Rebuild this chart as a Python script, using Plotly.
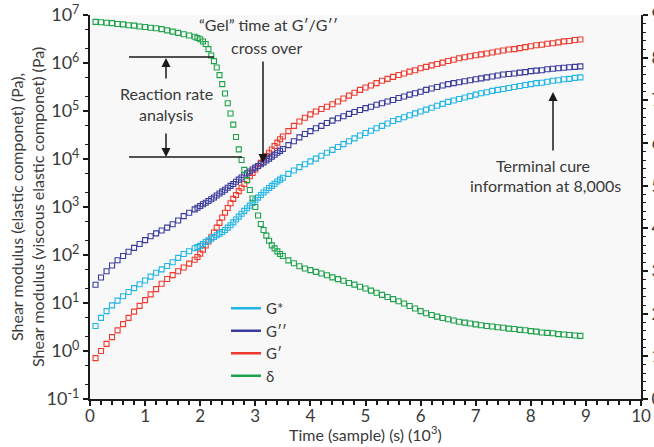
import plotly.graph_objects as go

# ---- data (time in 10^3 s) ----
time_k = [0.1, 0.2, 0.3, 0.4, 0.5, 0.6, 0.7, 0.8, 0.9, 1.0,
          1.1, 1.2, 1.3, 1.4, 1.5, 1.6, 1.7, 1.8, 1.9, 1.95,
          2.0, 2.05, 2.1, 2.15, 2.2, 2.25, 2.3, 2.35, 2.4, 2.45,
          2.5, 2.55, 2.6, 2.65, 2.7, 2.75, 2.8, 2.85, 2.9, 2.95,
          3.0, 3.05, 3.1, 3.15, 3.2, 3.25, 3.3, 3.35, 3.4, 3.45,
          3.5, 3.6, 3.7, 3.8, 3.9, 4.0,
          4.1, 4.2, 4.3, 4.4, 4.5, 4.6, 4.7, 4.8, 4.9, 5.0,
          5.1, 5.2, 5.3, 5.4, 5.5, 5.6, 5.7, 5.8, 5.9, 6.0,
          6.1, 6.2, 6.3, 6.4, 6.5, 6.6, 6.7, 6.8, 6.9, 7.0,
          7.1, 7.2, 7.3, 7.4, 7.5, 7.6, 7.7, 7.8, 7.9, 8.0,
          8.1, 8.2, 8.3, 8.4, 8.5, 8.6, 8.7, 8.8, 8.9]

g_star = [3.31, 4.9, 6.76, 8.91, 11.2, 13.8, 17.0, 20.4, 24.5, 29.5,
          35.5, 42.7, 50.1, 58.9, 70.8, 87.1, 105, 120, 138, 146,
          155, 170, 186, 202, 219, 237, 257, 279, 302, 331,
          372, 417, 479, 550, 631, 724, 832, 944, 1070, 1220,
          1380, 1570, 1780, 2000, 2240, 2480, 2750, 3050, 3390, 3720,
          4070, 4900, 5750, 6760, 7760, 8910,
          10200, 11700, 13500, 15500, 17800, 20400, 23400, 26900, 30900, 34700,
          38900, 43700, 49000, 55000, 61700, 67600, 74100, 81300, 89100, 97700,
          107000, 117000, 129000, 141000, 155000, 166000, 178000, 191000, 204000, 219000,
          234000, 245000, 263000, 275000, 288000, 302000, 316000, 331000, 347000, 363000,
          380000, 389000, 407000, 427000, 437000, 457000, 468000, 490000, 501000]

g_double_prime = [24.0, 33.9, 45.7, 60.3, 77.6, 95.5, 117, 141, 170, 204,
                  245, 282, 324, 372, 437, 525, 646, 759, 891, 966,
                  1050, 1140, 1230, 1330, 1450, 1580, 1740, 1910, 2090, 2290,
                  2510, 2750, 3020, 3350, 3720, 4120, 4570, 5010, 5500, 6030,
                  6610, 7160, 7760, 8510, 9330, 10200, 11200, 12300, 13500, 14800,
                  16200, 19500, 23400, 28200, 33100, 38000,
                  43700, 49000, 56200, 63100, 70800, 77600, 87100, 95500, 105000, 115000,
                  123000, 135000, 145000, 158000, 170000, 186000, 200000, 219000, 234000, 251000,
                  275000, 295000, 316000, 339000, 363000, 380000, 398000, 417000, 437000, 457000,
                  479000, 501000, 525000, 550000, 575000, 589000, 603000, 631000, 646000, 676000,
                  692000, 708000, 741000, 759000, 776000, 794000, 813000, 832000, 851000]

g_prime = [0.71, 1.0, 1.41, 1.95, 2.69, 3.63, 4.9, 6.61, 8.71, 11.5,
           15.1, 19.5, 25.1, 31.6, 38.0, 45.7, 55.0, 66.1, 79.4, 91.0,
           107, 129, 158, 191, 234, 295, 372, 468, 603, 759,
           955, 1200, 1480, 1780, 2140, 2510, 3020, 3630, 4370, 5130,
           6030, 7080, 8320, 9770, 11500, 13500, 15800, 18600, 21900, 25700,
           29500, 38000, 49000, 60300, 72400, 85100,
           97700, 110000, 123000, 138000, 158000, 182000, 209000, 240000, 275000, 309000,
           339000, 380000, 427000, 468000, 513000, 562000, 603000, 661000, 708000, 776000,
           832000, 891000, 955000, 1.02e6, 1.10e6, 1.17e6, 1.26e6, 1.32e6, 1.38e6, 1.45e6,
           1.51e6, 1.58e6, 1.66e6, 1.74e6, 1.82e6, 1.91e6, 1.95e6, 2.04e6, 2.14e6, 2.24e6,
           2.34e6, 2.40e6, 2.51e6, 2.57e6, 2.69e6, 2.82e6, 2.88e6, 3.02e6, 3.09e6]

delta_deg = [88.4, 88.3, 88.2, 88.1, 87.9, 87.8, 87.6, 87.5, 87.3, 87.2,
             87.0, 86.9, 86.7, 86.4, 86.1, 85.8, 85.5, 85.2, 84.9, 84.6,
             84.3, 83.8, 83.2, 82.0, 80.5, 79.2, 77.7, 75.9, 73.8, 71.6,
             69.3, 66.9, 64.3, 61.4, 58.5, 56.0, 53.7, 51.3, 49.0, 47.0,
             45.0, 43.0, 41.0, 39.6, 38.3, 37.1, 36.0, 35.3, 34.6, 34.0,
             33.5, 32.5, 31.8, 31.1, 30.6, 30.2,
             29.8, 29.4, 29.0, 28.5, 28.1, 27.7, 27.2, 26.8, 26.3, 25.9,
             25.4, 24.9, 24.4, 23.9, 23.4, 22.9, 22.4, 21.8, 21.2, 20.6,
             20.1, 19.7, 19.3, 19.0, 18.7, 18.4, 18.1, 17.9, 17.7, 17.5,
             17.3, 17.1, 17.0, 16.8, 16.7, 16.5, 16.4, 16.2, 16.1, 15.9,
             15.8, 15.6, 15.5, 15.4, 15.2, 15.1, 15.0, 14.9, 14.8]

modulus_tickvals = [0.1, 1, 10, 100, 1e3, 1e4, 1e5, 1e6, 1e7]
modulus_ticktext = ["10<sup>-1</sup>", "10<sup>0</sup>", "10<sup>1</sup>", "10<sup>2</sup>",
                    "10<sup>3</sup>", "10<sup>4</sup>", "10<sup>5</sup>", "10<sup>6</sup>",
                    "10<sup>7</sup>"]

series_names = ["G*", "G\u2032\u2032", "G\u2032", "\u03b4"]
series_colors = ["#22b5e6", "#3a3b9c", "#ef3b2f", "#1fa24c"]

FONT = "Lato"
TXT = "#3a3a3a"
AX = "#1a1a1a"

fig = go.Figure()

# data traces
for vals, col, yax in [(g_prime, series_colors[2], "y"),
                       (g_double_prime, series_colors[1], "y"),
                       (g_star, series_colors[0], "y"),
                       (delta_deg, series_colors[3], "y2")]:
    fig.add_trace(go.Scatter(
        x=time_k, y=vals, mode="markers", yaxis=yax, showlegend=False,
        marker=dict(symbol="square-open", size=5, color=col, line=dict(width=1.1)),
    ))

# legend entries (lines)
for name, col in zip(series_names, series_colors):
    fig.add_trace(go.Scatter(x=[None], y=[None], mode="lines", name=name,
                             line=dict(color=col, width=2.5)))

# pixel -> paper helpers (plot area 90..641 x 15..399)
L, R, T, B = 90, 641, 15, 399
def px(xp):
    return (xp - L) / (R - L)
def py(yp):
    return (B - yp) / (B - T)

shapes = [
    dict(type="line", xref="paper", yref="paper", x0=px(129), x1=px(214), y0=py(57), y1=py(57),
         line=dict(color=AX, width=1.5)),
    dict(type="line", xref="paper", yref="paper", x0=px(129), x1=px(242), y0=py(157), y1=py(157),
         line=dict(color=AX, width=1.5)),
]

annotations = []
def label(text, xp, yp, size=16):
    annotations.append(dict(text=text, xref="paper", yref="paper", x=px(xp), y=py(yp),
                            showarrow=False, xanchor="center", yanchor="middle",
                            font=dict(family=FONT, size=size, color=TXT)))
def arrow(xh, yh, xt, yt):
    annotations.append(dict(text="", xref="paper", yref="paper", x=px(xh), y=py(yh),
                            ax=xt - xh, ay=yt - yh, axref="pixel", ayref="pixel",
                            showarrow=True, arrowhead=2, arrowsize=1.2, arrowwidth=1.5,
                            arrowcolor=AX, standoff=0, startstandoff=0))

label("\u201cGel\u201d time at G\u2032/G\u2032\u2032", 268, 24)
label("cross over", 266, 47)
arrow(263, 163, 263, 60)
label("Reaction rate", 166, 93)
label("analysis", 166, 115)
arrow(166, 58, 166, 80)
arrow(166, 157, 166, 132)
label("Terminal cure", 543, 165)
label("information at 8,000s", 545, 185)
arrow(553, 92, 553, 152)

# axis titles
annotations.append(dict(
    text="Shear modulus (elastic componet) (Pa),<br>Shear modulus (viscous elastic componet) (Pa)",
    xref="paper", yref="paper", x=px(27), y=py(207), textangle=-90, showarrow=False,
    xanchor="center", yanchor="middle", font=dict(family=FONT, size=16, color=TXT)))
annotations.append(dict(
    text="Time (sample) (s) (10<sup>3</sup>)", xref="paper", yref="paper",
    x=px(365), y=py(433), showarrow=False, xanchor="center", yanchor="middle",
    font=dict(family=FONT, size=16, color=TXT)))

fig.update_layout(
    width=654, height=447,
    margin=dict(l=L, r=654 - R, t=T, b=447 - B),
    paper_bgcolor="white", plot_bgcolor="#f8f8f8",
    font=dict(family=FONT, size=17, color=TXT),
    shapes=shapes, annotations=annotations,
    legend=dict(x=px(226), y=py(292), xanchor="left", yanchor="top",
                bgcolor="rgba(0,0,0,0)", font=dict(family=FONT, size=15, color=TXT),
                tracegroupgap=0, itemwidth=30),
    xaxis=dict(range=[0, 10], dtick=1, showgrid=False, zeroline=False, automargin=False,
               showline=True, linecolor=AX, linewidth=2, ticks="outside", ticklen=5,
               tickwidth=1.5, tickcolor=AX, tickfont=dict(size=17), ticklabelstandoff=-4,
               minor=dict(dtick=0.2, ticks="outside", ticklen=4, tickcolor=AX, tickwidth=1.5)),
    yaxis=dict(type="log", range=[-1, 7], tickvals=modulus_tickvals, ticktext=modulus_ticktext,
               showgrid=False, zeroline=False, showline=True, linecolor=AX, linewidth=2,
               automargin=False, tickfont=dict(size=18),
               ticks="outside", ticklen=5, tickwidth=1.5, tickcolor=AX,
               minor=dict(ticks="outside", ticklen=3, tickcolor=AX, tickwidth=1)),
    yaxis2=dict(overlaying="y", side="right", range=[0, 90], dtick=10, automargin=False,
                showgrid=False, zeroline=False, showline=True, linecolor=AX, linewidth=2,
                ticks="outside", ticklen=5, tickwidth=1.5, tickcolor=AX, tickfont=dict(size=17),
                minor=dict(dtick=2, ticks="outside", ticklen=3, tickcolor=AX, tickwidth=1)),
)

fig.write_html("out.html")
